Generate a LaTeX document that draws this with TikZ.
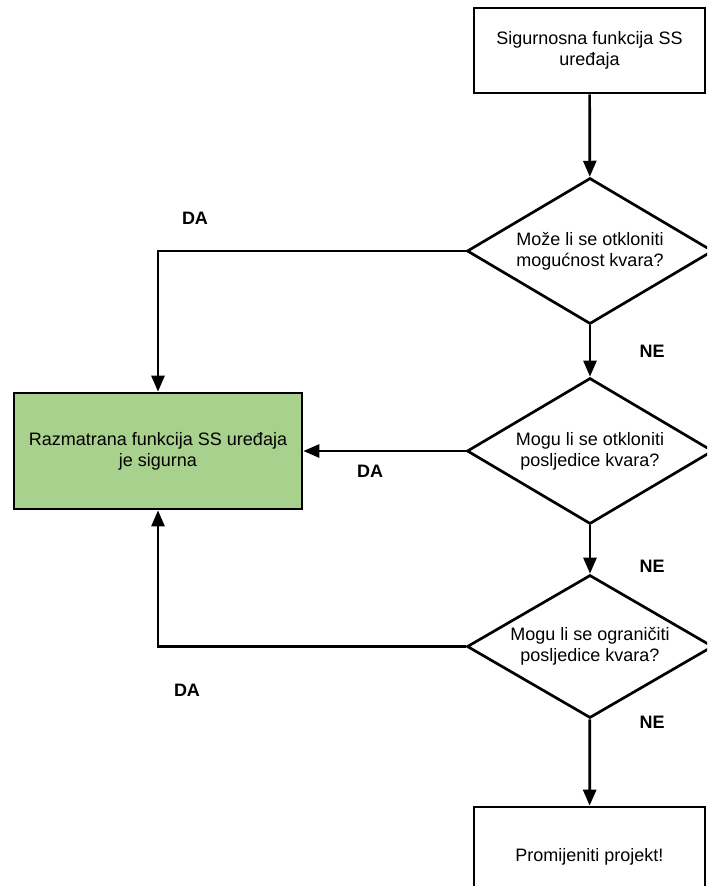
\documentclass[tikz,border=0pt]{standalone}
\usepackage{fontspec}
\setmainfont{Liberation Sans}
\usepackage{tikz}
\usetikzlibrary{shapes.geometric}
\usetikzlibrary{arrows.meta}

\definecolor{safegreen}{RGB}{169,209,142}

\begin{document}
\begin{tikzpicture}[x=1pt, y=-1pt, >={Triangle[length=16pt,width=13pt]},
  txt/.style={font=\fontsize{18}{21}\selectfont, align=center},
  lbl/.style={font=\fontsize{18}{21}\selectfont\bfseries},
  box/.style={txt, draw, line width=2.7pt, inner sep=0pt},
  question/.style={txt, draw, diamond, aspect=1.68, line width=2.7pt, inner sep=0pt,
    minimum width=246pt, minimum height=146pt},
  arr/.style={->, line width=2.7pt}]
\clip (0,0) rectangle (707,886);

%boxes
\node[box, minimum width=231pt, minimum height=85pt] (start) at (589.5,50.5)
  {Sigurnosna funkcija SS\\uređaja};
\node[box, fill=safegreen, minimum width=288pt, minimum height=116pt] (safe) at (158,451)
  {Razmatrana funkcija SS uređaja\\je sigurna};
\node[box, minimum width=231pt, minimum height=100pt] (stop) at (589.5,857)
  {Promijeniti projekt!};

%questions
\node[question] (q1) at (590,251) {Može li se otkloniti\\mogućnost kvara?};
\node[question] (q2) at (590,451) {Mogu li se otkloniti\\posljedice kvara?};
\node[question, minimum height=143pt] (q3) at (590,646.5) {Mogu li se ograničiti\\posljedice kvara?};

%NE path
\draw[arr] (start) -- (q1);
\draw[arr] (q1) -- (q2);
\draw[arr] (q2) -- (q3);
\draw[arr] (q3) -- (stop);

%DA path
\draw[arr] (q1.west) -| (safe.north);
\draw[arr] (q2.west) -- (safe.east);
\draw[arr] (q3.west) -| (safe.south);

%labels
\node[lbl] (da1) at (195,218) {DA};
\node[lbl] (da2) at (370,471) {DA};
\node[lbl] (da3) at (187,690) {DA};
\node[lbl] (ne1) at (652,351) {NE};
\node[lbl] (ne2) at (652,566) {NE};
\node[lbl] (ne3) at (652,722) {NE};
\end{tikzpicture}
\end{document}
